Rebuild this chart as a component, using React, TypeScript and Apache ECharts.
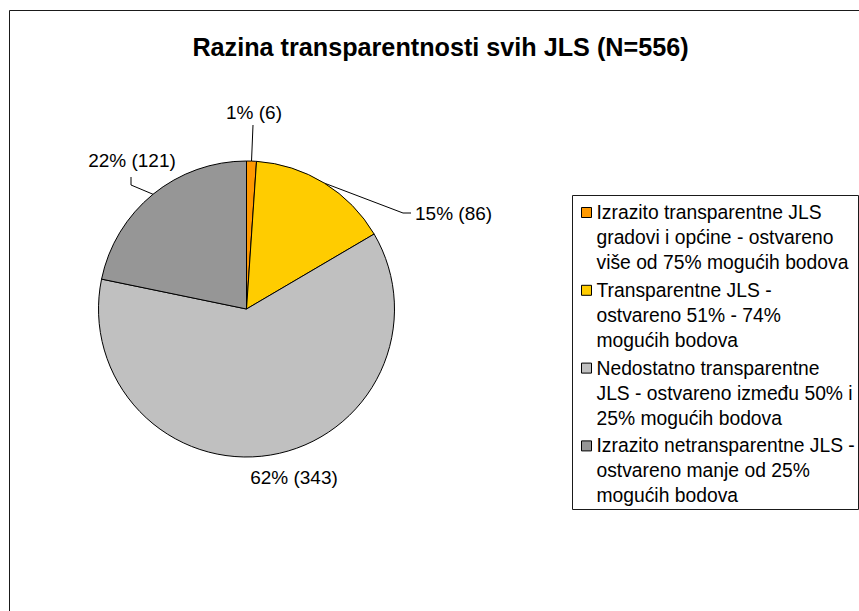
import React, { useEffect, useRef } from "react";
import * as echarts from "echarts";

const titleText = "Razina transparentnosti svih JLS (N=556)";
const categories = [
  "Izrazito transparentne JLS\ngradovi i općine - ostvareno\nviše od 75% mogućih bodova",
  "Transparentne JLS -\nostvareno 51% - 74%\nmogućih bodova",
  "Nedostatno transparentne\nJLS - ostvareno između 50% i\n25% mogućih bodova",
  "Izrazito netransparentne JLS -\nostvareno manje od 25%\nmogućih bodova",
];
const counts = [6, 86, 343, 121];
const colors = ["#FF9900", "#FFCC00", "#C0C0C0", "#969696"];
const showLine = [true, true, false, true];

const FONT = "'Liberation Sans', Arial, sans-serif";
const CX = 246.5;
const CY = 309;
const R = 148;

export default function App() {
  const ref = useRef<HTMLDivElement>(null);
  useEffect(() => {
    document.body.style.margin = "0";
    const chart = echarts.init(ref.current!, null, { renderer: "svg" });
    const total = counts.reduce((a, b) => a + b, 0);
    const anchor = (i: number) => {
      let before = 0;
      for (let k = 0; k < i; k++) before += counts[k];
      const mid = ((before + counts[i] / 2) / total) * Math.PI * 2;
      return [CX + R * Math.sin(mid), CY - R * Math.cos(mid)];
    };
    const labelPlace: any[] = [
      { x: 254, y: 112.5, align: "center", pts: [[253, 125]] },
      { x: 415, y: 213, align: "left", pts: [[403, 213], [411, 213]] },
      { x: 294, y: 477, align: "center", pts: [] },
      { x: 132, y: 160, align: "center", pts: [[131, 185], [131, 177]] },
    ];
    chart.setOption({
      animation: false,
      backgroundColor: "#fff",
      graphic: [
        {
          type: "rect",
          shape: { x: 9.5, y: 10.5, width: 900, height: 700 },
          style: { fill: "none", stroke: "#1a1a1a", lineWidth: 1 },
          silent: true,
          z: 0,
        },
        {
          type: "rect",
          shape: { x: 572.5, y: 195.5, width: 286, height: 314 },
          style: { fill: "none", stroke: "#1a1a1a", lineWidth: 1 },
          silent: true,
          z: 0,
        },
        {
          type: "text",
          x: 440.5,
          y: 46.5,
          style: {
            text: titleText,
            align: "center",
            verticalAlign: "middle",
            font: `bold 25.2px ${FONT}`,
            fill: "#000",
          },
          silent: true,
        },
      ],
      legend: {
        orient: "vertical",
        left: 581,
        top: 150,
        padding: 0,
        itemGap: -47.2,
        itemWidth: 10,
        itemHeight: 10,
        icon: "rect",
        selectedMode: false,
        itemStyle: { borderColor: "#000", borderWidth: 1 },
        formatter: (name: string) => "\n\n" + name,
        textStyle: {
          fontFamily: FONT,
          fontSize: 19.3,
          lineHeight: 25,
          color: "#000",
        },
        data: categories,
      },
      series: [
        {
          type: "pie",
          center: [CX, CY],
          radius: R,
          startAngle: 90,
          clockwise: true,
          silent: true,
          emphasis: { disabled: true },
          itemStyle: { borderColor: "#000", borderWidth: 1 },
          label: {
            show: true,
            position: "outside",
            fontFamily: FONT,
            fontSize: 19,
            color: "#000",
            formatter: (p: any) => `${Math.round(p.percent)}% (${p.value})`,
          },
          labelLine: {
            show: true,
            length: 15,
            length2: 10,
            lineStyle: { color: "#000", width: 1 },
          },
          labelLayout: (params: any) => {
            const i = params.dataIndex;
            const lp = labelPlace[i];
            const a = anchor(i);
            return {
              x: lp.x,
              y: lp.y,
              align: lp.align,
              verticalAlign: "middle",
              labelLinePoints: showLine[i] ? [a, ...lp.pts] : undefined,
            };
          },
          data: counts.map((v, i) => ({
            name: categories[i],
            value: v,
            itemStyle: { color: colors[i] },
            labelLine: { show: showLine[i] },
          })),
        },
      ],
    });
    return () => chart.dispose();
  }, []);
  return <div ref={ref} style={{ width: 859, height: 611 }} />;
}
